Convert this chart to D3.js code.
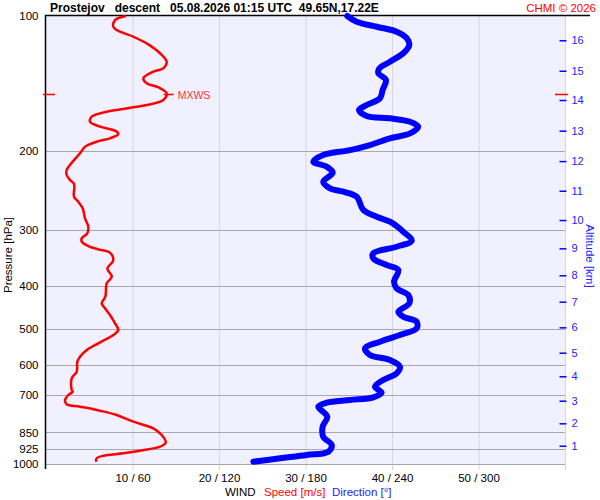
<!DOCTYPE html>
<html><head><meta charset="utf-8">
<script src="https://cdn.jsdelivr.net/npm/d3@7"></script>
<style>
html,body{margin:0;padding:0;background:#fff;}
text{font-family:"Liberation Sans",Arial,sans-serif;}
</style></head>
<body>
<svg id="c" width="600" height="500"></svg>
<script>
// ---- data ----
const pressureTicks = [100,200,300,400,500,600,700,850,925,1000];
const speedTicks = [10,20,30,40,50];
const speedTickLabels = ["10 / 60","20 / 120","30 / 180","40 / 240","50 / 300"];
const altitudeKm = [1,2,3,4,5,6,7,8,9,10,11,12,13,14,15,16];
const altitudeP = [910.3,811.3,722.3,637.1,564.3,495.4,434.2,379.1,330.1,285.4,245.5,210.8,180.3,154.0,132.5,113.3];

const speedP = [100,102.1,105.7,107.5,111.2,115.1,121.1,126.5,130.9,133.1,137.7,141.3,144.2,148.8,154.0,158.0,159.9,161.3,163.6,167.8,172.2,176.6,180.3,183.4,187.5,190.8,195.8,202.5,215.1,220.7,226.4,232.3,237.1,253.2,259.8,268.7,282.9,295.3,305.5,313.5,319.0,326.2,331.8,337.6,347.5,353.6,365.8,381.9,395.1,423.2,437.8,449.2,465.0,485.3,502.3,515.4,537.8,556.6,576.1,591.1,622.3,643.8,683.6,689.6,701.4,719.7,735.8,744.9,760.4,777.4,804.6,832.4,861.6,896.4,915.0,934.0,946.6,958.2,971.1,988.2];
const speedV = [9.25,7.98,7.78,8.17,10.09,11.64,13.18,13.95,13.56,12.40,11.25,11.64,12.98,13.95,13.56,11.64,10.09,8.94,7.02,5.28,5.09,6.24,7.98,8.36,7.40,5.86,4.51,3.93,2.77,2.39,2.39,2.77,3.24,3.24,3.73,4.24,4.51,4.89,4.77,4.13,4.13,4.89,6.05,7.40,7.78,7.71,7.09,7.60,7.02,6.86,6.44,6.82,7.40,7.98,8.36,7.78,6.05,4.71,3.93,3.62,3.55,2.97,2.97,3.09,2.58,2.20,2.39,3.93,6.24,8.17,10.09,12.40,13.38,13.84,13.18,10.87,8.94,6.62,5.86,5.78];

const dirP = [100,103.0,105.7,108.4,112.1,116.1,121.1,126.5,130.9,134.2,139.0,146.3,152.6,158.0,162.1,167.2,169.2,172.2,176.6,182.8,187.5,194.1,199.2,204.3,211.5,217.0,223.8,234.4,242.4,246.7,253.2,271.0,280.6,287.9,303.0,317.4,327.4,338.7,347.5,359.6,369.0,391.9,405.4,419.6,437.8,457.2,469.1,481.3,498.0,515.4,533.3,551.8,571.1,586.0,606.6,627.5,649.4,672.2,693.2,709.8,719.7,729.8,744.9,784.2,825.4,869.1,907.1,938.8,954.9,971.1,988.2];
const dirV = [209.0,215.5,229.4,243.2,250.2,252.0,247.8,238.6,231.2,230.5,235.8,233.5,231.7,222.4,217.1,222.4,238.6,252.5,258.2,252.5,238.6,224.7,210.9,192.3,185.4,194.7,198.9,192.3,197.0,206.2,215.5,220.1,229.4,238.6,247.8,253.7,243.2,227.0,227.0,236.3,244.4,241.4,243.2,251.3,252.0,244.4,247.8,257.1,257.1,245.5,231.7,221.3,224.7,238.6,245.5,243.2,233.9,228.2,232.8,227.0,210.9,194.7,188.9,195.1,191.9,192.3,198.2,195.8,180.8,162.3,143.8];

const mxwsP = 149.5;
const titleText = "Prostejov   descent   05.08.2026 01:15 UTC  49.65N,17.22E";

// ---- drawing ----
const svg = d3.select("#c");
const x = d3.scaleLinear().domain([0,60]).range([46,565]);
const y = d3.scaleLog().domain([100,1000]).range([16,464]);

svg.append("rect").attr("x",46).attr("y",16).attr("width",519).attr("height",448).attr("fill","#f0f0ff");

// vertical grid lines
svg.append("g").selectAll("line").data([10,20,30,40,50,60]).join("line")
  .attr("x1",d=>x(d)+0.5).attr("x2",d=>x(d)+0.5).attr("y1",16).attr("y2",470)
  .attr("stroke","#d6d6de").attr("stroke-width",1);

// pressure grid lines
svg.append("g").selectAll("line").data(pressureTicks.slice(1)).join("line")
  .attr("x1",45).attr("x2",565).attr("y1",d=>Math.round(y(d))+0.5).attr("y2",d=>Math.round(y(d))+0.5)
  .attr("stroke","#a8a8a8").attr("stroke-width",1);

// left pressure axis
const ax = d3.axisLeft(y).tickValues(pressureTicks).tickFormat(d3.format("d")).tickSize(0).tickPadding(7);
const gL = svg.append("g").attr("transform","translate(45.5,0)").call(ax);
gL.select(".domain").remove();
gL.selectAll("text").attr("font-size",11.5).attr("fill","#000").style("font-family","'Liberation Sans',Arial,sans-serif");
svg.append("line").attr("x1",45.5).attr("x2",45.5).attr("y1",15).attr("y2",469).attr("stroke","#000").attr("stroke-width",1.5);
svg.append("line").attr("x1",45).attr("x2",590).attr("y1",15.5).attr("y2",15.5).attr("stroke","#000").attr("stroke-width",1.5);

// bottom speed/direction axis
const bx = d3.axisBottom(x).tickValues(speedTicks).tickFormat((d,i)=>speedTickLabels[i]).tickSize(0).tickPadding(8);
const gB = svg.append("g").attr("transform","translate(0,466)").call(bx);
gB.select(".domain").remove();
gB.selectAll("text").attr("font-size",11.5).attr("fill","#000").style("font-family","'Liberation Sans',Arial,sans-serif");

// right altitude axis
const ra = d3.axisRight(y).tickValues(altitudeP).tickFormat((d,i)=>altitudeKm[i]).tickSize(7).tickPadding(5);
const gR = svg.append("g").attr("transform","translate(559.5,0)").call(ra);
gR.select(".domain").remove();
gR.selectAll("line").attr("stroke","#0000ff").attr("stroke-width",1.5);
gR.selectAll("text").attr("font-size",11).attr("fill","#2222ff").style("font-family","'Liberation Sans',Arial,sans-serif");

// direction line
const dirPts = dirP.map((p,i)=>[p,dirV[i]]);
svg.append("path").datum(dirPts)
  .attr("d",d3.line().x(d=>x(d[1]/6)).y(d=>y(d[0])).curve(d3.curveCatmullRom))
  .attr("fill","none").attr("stroke","#0000ff").attr("stroke-width",6).attr("stroke-linecap","round");

// speed line
const spPts = speedP.map((p,i)=>[p,speedV[i]]);
svg.append("path").datum(spPts)
  .attr("d",d3.line().x(d=>x(d[1])).y(d=>y(d[0])).curve(d3.curveCatmullRom))
  .attr("fill","none").attr("stroke","#ff0000").attr("stroke-width",2.5);

// MXWS markers
const mxIdx = speedV.indexOf(d3.max(speedV));
const mxV = speedV[mxIdx];
const my = Math.round(y(mxwsP))+0.5;
svg.append("line").attr("x1",43).attr("x2",55).attr("y1",my).attr("y2",my).attr("stroke","#ff0000").attr("stroke-width",1.5);
svg.append("line").attr("x1",555).attr("x2",568).attr("y1",my).attr("y2",my).attr("stroke","#ff0000").attr("stroke-width",1.5);
svg.append("line").attr("x1",x(mxV)-3).attr("x2",x(mxV)+7).attr("y1",my).attr("y2",my).attr("stroke","#ff0000").attr("stroke-width",1.5);
svg.append("text").attr("x",x(mxV)+11).attr("y",my+4).attr("font-size",10.5).attr("fill","#ff3030").text("MXWS");

// title
svg.append("text").attr("x",50).attr("y",12).attr("font-size",12).attr("font-weight","bold").attr("fill","#000")
  .attr("xml:space","preserve").style("white-space","pre").text(titleText);
svg.append("text").attr("x",596).attr("y",12).attr("text-anchor","end").attr("font-size",11.5).attr("fill","#ff0000").text("CHMI © 2026");

// axis titles
svg.append("text").attr("transform","translate(12,255) rotate(-90)").attr("text-anchor","middle").attr("font-size",11.5).attr("fill","#000").text("Pressure [hPa]");
svg.append("text").attr("transform","translate(586,256) rotate(90)").attr("text-anchor","middle").attr("font-size",11.5).attr("fill","#2222ff").text("Altitude [km]");

const bl = svg.append("text").attr("y",496).attr("font-size",11.5);
bl.append("tspan").attr("x",225).attr("fill","#000").text("WIND");
bl.append("tspan").attr("x",264).attr("fill","#ff0000").text("Speed [m/s]");
bl.append("tspan").attr("x",332).attr("fill","#2222ff").text("Direction [°]");
</script>
</body></html>
